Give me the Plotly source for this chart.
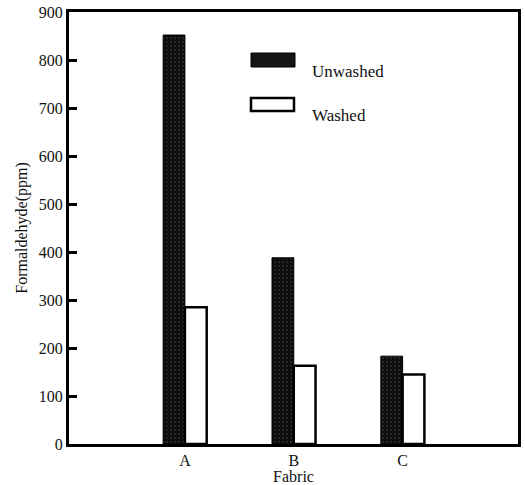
import plotly.graph_objects as go

fabrics = ["A", "B", "C"]
unwashed = [852, 388, 183]
washed = [285, 163, 145]
x_pos = [1, 2, 3]
y_ticks = [0, 100, 200, 300, 400, 500, 600, 700, 800, 900]

font = "Liberation Serif, Times New Roman, serif"

fig = go.Figure()
fig.add_trace(go.Bar(
    x=x_pos, y=unwashed, name="Unwashed",
    marker=dict(color="#0d0d0d", line=dict(color="#000", width=1),
                pattern=dict(shape=".", fgcolor="#8a8a8a", bgcolor="#0d0d0d", size=4, solidity=0.12)),
    showlegend=False,
))
fig.add_trace(go.Bar(
    x=x_pos, y=washed, name="Washed",
    marker=dict(color="white", line=dict(color="#000", width=2.5)),
    showlegend=False,
))

W, H = 525, 485
# plot area in screen pixels
L, R, T, B = 69, 518, 12, 444
ml, mr, mt, mb = L, W - R, T, H - B

def px(x): return (x - L) / (R - L)
def py(y): return 1 - (y - T) / (B - T)

fig.add_shape(type="rect", xref="paper", yref="paper",
              x0=px(251), x1=px(295), y0=py(67), y1=py(53),
              fillcolor="#141414", line=dict(color="#000", width=1))
fig.add_shape(type="rect", xref="paper", yref="paper",
              x0=px(251), x1=px(294), y0=py(111), y1=py(98),
              fillcolor="white", line=dict(color="#000", width=2.5))
fig.add_annotation(x=px(310), y=py(60), xref="paper", yref="paper", text="Unwashed",
                   showarrow=False, xanchor="left", font=dict(family=font, size=17, color="#111"))
fig.add_annotation(x=px(310), y=py(104), xref="paper", yref="paper", text="Washed",
                   showarrow=False, xanchor="left", font=dict(family=font, size=17, color="#111"))

fig.update_layout(
    width=W, height=H,
    margin=dict(l=ml, r=mr, t=mt, b=mb, autoexpand=False),
    paper_bgcolor="white", plot_bgcolor="white",
    barmode="group", bargap=0.6, bargroupgap=0.0,
    font=dict(family=font, size=16, color="#111"),
    xaxis=dict(
        range=[-0.065, 4.06], tickvals=x_pos, ticktext=fabrics,
        ticks="", showgrid=False, zeroline=False,
        showline=True, linecolor="#000", linewidth=3, mirror=True,
        title=dict(text="Fabric", standoff=0, font=dict(size=16)),
        tickfont=dict(size=16),
    ),
    yaxis=dict(
        range=[0, 900], tickvals=y_ticks, ticks="inside", ticklen=8, tickwidth=3,
        tickcolor="#000", showgrid=False, zeroline=False,
        showline=True, linecolor="#000", linewidth=3, mirror=True,
        title=dict(text="Formaldehyde(ppm)", standoff=8, font=dict(size=16)),
        tickfont=dict(size=16), ticklabeloverflow="allow",
    ),
)

fig.write_html("out.html",
               config={"displayModeBar": False},
               post_script="document.body.style.margin='0';document.body.style.overflow='hidden';")
